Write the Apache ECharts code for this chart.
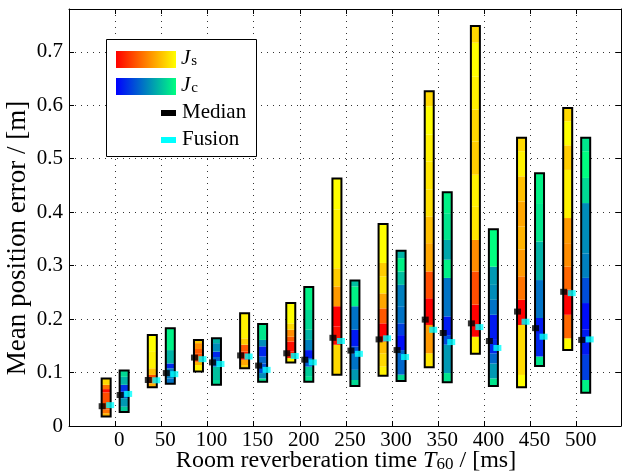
<!DOCTYPE html>
<html>
<head>
<meta charset="utf-8">
<script src="https://cdn.jsdelivr.net/npm/echarts@6/dist/echarts.min.js"></script>
<style>
  html, body { margin: 0; padding: 0; background: #fff; }
  #chart { width: 623px; height: 475px; }
</style>
</head>
<body>
<div id="chart"></div>
<script>
// reverberation times (x categories)
const t60 = [0, 50, 100, 150, 200, 250, 300, 350, 400, 450, 500];

// J_s bars: band edges (bottom -> top) and colour level of each band (0 red .. 1 yellow)
const jsEdges = [
  [0.018, 0.024, 0.031, 0.063, 0.069, 0.077, 0.089],
  [0.0725, 0.080, 0.0955, 0.108, 0.140, 0.170],
  [0.102, 0.114, 0.120, 0.135, 0.144, 0.155, 0.161],
  [0.108, 0.114, 0.124, 0.139, 0.152, 0.164, 0.211],
  [0.119, 0.127, 0.139, 0.158, 0.167, 0.180, 0.192, 0.230],
  [0.096, 0.152, 0.186, 0.224, 0.261, 0.295, 0.405, 0.463],
  [0.094, 0.111, 0.136, 0.158, 0.192, 0.220, 0.248, 0.280, 0.305, 0.378],
  [0.110, 0.136, 0.189, 0.239, 0.289, 0.342, 0.392, 0.442, 0.495, 0.545, 0.598, 0.626],
  [0.135, 0.167, 0.227, 0.289, 0.348, 0.411, 0.470, 0.532, 0.592, 0.654, 0.717, 0.748],
  [0.0725, 0.0955, 0.189, 0.236, 0.280, 0.330, 0.373, 0.420, 0.467, 0.514, 0.539],
  [0.142, 0.164, 0.208, 0.255, 0.298, 0.342, 0.389, 0.479, 0.525, 0.570, 0.595]
];
const jsLevels = [
  [0.7, 0.45, 0.3, 0.05, 0.45, 0.85],
  [0.7, 0.3, 0.75, 0.95, 1.0],
  [0.95, 0.7, 0.3, 0.35, 0.55, 0.8],
  [0.8, 0.65, 0.1, 0.35, 0.8, 0.95],
  [0.95, 0.1, 0.05, 0.35, 0.55, 0.85, 1.0],
  [0.85, 0.05, 0.0, 0.6, 0.8, 0.95, 1.0],
  [0.95, 0.85, 0.75, 0.0, 0.35, 0.65, 0.9, 0.8, 1.0],
  [0.9, 0.6, 0.0, 0.3, 0.65, 0.75, 0.88, 0.9, 0.95, 1.0, 0.85],
  [0.95, 0.0, 0.3, 0.55, 0.9, 0.95, 0.8, 0.85, 0.95, 1.0, 0.85],
  [1.0, 0.85, 0.0, 0.45, 0.6, 0.7, 0.65, 0.75, 0.95, 0.85],
  [1.0, 0.4, 0.0, 0.4, 0.55, 0.6, 0.95, 0.8, 1.0, 0.85]
];

// J_c bars: band edges and colour level (0 blue .. 1 green)
const jcEdges = [
  [0.026, 0.036, 0.052, 0.064, 0.077, 0.092, 0.104],
  [0.079, 0.089, 0.108, 0.117, 0.142, 0.183],
  [0.077, 0.086, 0.111, 0.129, 0.139, 0.155, 0.164],
  [0.083, 0.089, 0.099, 0.117, 0.130, 0.149, 0.161, 0.191],
  [0.083, 0.092, 0.111, 0.127, 0.142, 0.161, 0.180, 0.217, 0.260],
  [0.075, 0.086, 0.105, 0.136, 0.149, 0.180, 0.224, 0.261, 0.272],
  [0.084, 0.096, 0.142, 0.170, 0.192, 0.224, 0.264, 0.289, 0.314, 0.328],
  [0.082, 0.099, 0.152, 0.170, 0.205, 0.277, 0.311, 0.348, 0.398, 0.437],
  [0.075, 0.089, 0.117, 0.136, 0.161, 0.208, 0.236, 0.264, 0.298, 0.368],
  [0.112, 0.130, 0.174, 0.202, 0.273, 0.345, 0.417, 0.473],
  [0.062, 0.086, 0.133, 0.180, 0.230, 0.277, 0.323, 0.417, 0.464, 0.514, 0.539]
];
const jcLevels = [
  [0.8, 0.6, 0.35, 0.2, 0.7, 0.85],
  [0.45, 0.5, 0.15, 0.7, 0.95],
  [0.85, 0.75, 0.4, 0.15, 0.55, 0.7],
  [0.9, 0.55, 0.3, 0.4, 0.15, 0.55, 0.9],
  [0.9, 0.8, 0.35, 0.1, 0.5, 0.7, 0.85, 0.95],
  [0.85, 0.6, 0.45, 0.3, 0.1, 0.45, 0.95, 0.75],
  [0.85, 0.4, 0.05, 0.25, 0.45, 0.5, 0.75, 0.95, 0.7],
  [0.9, 0.6, 0.3, 0.1, 0.45, 0.95, 0.65, 0.9, 0.95],
  [0.9, 0.6, 0.4, 0.15, 0.1, 0.45, 0.55, 0.6, 1.0],
  [0.9, 0.15, 0.1, 0.45, 0.7, 0.9, 0.95],
  [0.95, 0.25, 0.1, 0.05, 0.3, 0.5, 0.55, 0.85, 1.0, 0.9]
];

// median and fusion markers
const jsMedian = [0.037, 0.086, 0.128, 0.132, 0.136, 0.165, 0.162, 0.199, 0.192, 0.214, 0.251];
const jsFusion = [0.039, 0.0855, 0.125, 0.130, 0.131, 0.159, 0.164, 0.180, 0.185, 0.195, 0.2485];
const jcMedian = [0.058, 0.099, 0.119, 0.113, 0.124, 0.141, 0.142, 0.174, 0.159, 0.183, 0.161];
const jcFusion = [0.060, 0.097, 0.116, 0.105, 0.119, 0.135, 0.129, 0.157, 0.146, 0.167, 0.162];

const FONT = 'Liberation Serif';

// matlab autumn / winter colormaps
const autumn = (t) => `rgb(255,${Math.round(255 * t)},0)`;
const winter = (t) => `rgb(0,${Math.round(255 * t)},${Math.round(255 * (1 - t / 2))})`;

// segments: [x, lo, hi, level, side]  side -1 = J_s (left), 1 = J_c (right)
let segData = [];
let boxData = [];
const addBars = (edges, levels, side) => {
  t60.forEach((t, i) => {
    const e = edges[i];
    for (let k = 0; k < levels[i].length; k++) {
      segData.push([t, e[k], e[k + 1], levels[i][k], side]);
    }
    boxData.push([t, e[0], e[e.length - 1], side]);
  });
};
addBars(jsEdges, jsLevels, -1);
addBars(jcEdges, jcLevels, 1);

const BAR_W = 9;
const barX = (px, side) => px + (side < 0 ? -13.5 : 4.5);

const pairs = (arr) => arr.map((v, i) => [t60[i], v]);

const frameLine = { onZero: false, lineStyle: { color: '#000', width: 1 } };
const frameTick = { show: true, inside: true, length: 5, lineStyle: { color: '#000' } };
const dotted = { show: true, lineStyle: { color: '#333', width: 1, type: [1, 5] } };

const chart = echarts.init(document.getElementById('chart'));

const option = {
  animation: false,
  backgroundColor: '#fff',
  grid: { left: 69, right: 2, top: 9, bottom: 49, containLabel: false, outerBoundsMode: 'none' },
  xAxis: [
    {
      type: 'value', min: -50, max: 548, interval: 50,
      axisLine: frameLine,
      axisTick: frameTick,
      axisLabel: {
        fontFamily: FONT, fontSize: 21, color: '#000', margin: 4, padding: [0, 0, 0, 8],
        showMinLabel: false, showMaxLabel: false,
        formatter: (v) => (v >= 0 && v <= 500 ? String(v) : '')
      },
      splitLine: dotted
    },
    {
      type: 'value', position: 'top', min: -50, max: 548, interval: 50,
      axisLine: frameLine, axisTick: frameTick,
      axisLabel: { show: false }, splitLine: { show: false }
    }
  ],
  yAxis: [
    {
      type: 'value', min: 0, max: 0.78, interval: 0.1,
      axisLine: Object.assign({ show: true }, frameLine),
      axisTick: frameTick,
      axisLabel: {
        fontFamily: FONT, fontSize: 21, color: '#000', margin: 6, showMaxLabel: false,
        formatter: (v) => (v <= 0.7 ? String(Math.round(v * 10) / 10) : '')
      },
      splitLine: dotted
    },
    {
      type: 'value', position: 'right', min: 0, max: 0.78, interval: 0.1,
      axisLine: Object.assign({ show: true }, frameLine), axisTick: frameTick,
      axisLabel: { show: false }, splitLine: { show: false }
    }
  ],
  series: [
    {
      type: 'custom',
      data: segData,
      z: 2,
      renderItem: (params, api) => {
        const side = api.value(4);
        const lo = api.coord([api.value(0), api.value(1)]);
        const hi = api.coord([api.value(0), api.value(2)]);
        const lvl = api.value(3);
        return {
          type: 'rect',
          shape: { x: barX(lo[0], side), y: hi[1], width: BAR_W, height: lo[1] - hi[1] },
          style: { fill: side < 0 ? autumn(lvl) : winter(lvl), stroke: null }
        };
      }
    },
    {
      type: 'custom',
      data: boxData,
      z: 3,
      renderItem: (params, api) => {
        const side = api.value(3);
        const lo = api.coord([api.value(0), api.value(1)]);
        const hi = api.coord([api.value(0), api.value(2)]);
        return {
          type: 'rect',
          shape: { x: barX(lo[0], side), y: hi[1], width: BAR_W, height: lo[1] - hi[1] },
          style: { fill: 'none', stroke: '#000', lineWidth: 2 }
        };
      }
    },
    { type: 'scatter', data: pairs(jsMedian), symbol: 'rect', symbolSize: [7, 6], symbolOffset: [-13, 0], itemStyle: { color: '#000' }, z: 4 },
    { type: 'scatter', data: pairs(jcMedian), symbol: 'rect', symbolSize: [7, 6], symbolOffset: [5, 0], itemStyle: { color: '#000' }, z: 4 },
    { type: 'scatter', data: pairs(jsFusion), symbol: 'rect', symbolSize: [8, 6], symbolOffset: [-5, 0], itemStyle: { color: '#00ffff' }, z: 5 },
    { type: 'scatter', data: pairs(jcFusion), symbol: 'rect', symbolSize: [8, 6], symbolOffset: [13, 0], itemStyle: { color: '#00ffff' }, z: 5 }
  ],
  graphic: [
    // axis titles as free text so they sit where the original has them
    {
      type: 'text', x: 18, y: 238, rotation: Math.PI / 2,
      style: { text: 'Mean position error / [m]', fontFamily: FONT, fontSize: 27, fill: '#000', align: 'center', verticalAlign: 'middle' }
    },
    {
      type: 'text', x: 346, y: 461,
      style: {
        text: '{a|Room reverberation time }{t|T}{sub|60}{a| / [ms]}',
        align: 'center', verticalAlign: 'middle',
        rich: {
          a: { fontFamily: FONT, fontSize: 24, fill: '#000' },
          t: { fontFamily: FONT, fontSize: 24, fontStyle: 'italic', fill: '#000' },
          sub: { fontFamily: FONT, fontSize: 17, fill: '#000', verticalAlign: 'bottom', padding: [6, 0, 0, 0] }
        }
      }
    },
    { type: 'rect', left: 106, top: 39, z: 10, shape: { width: 150, height: 117 }, style: { fill: '#fff', stroke: '#000', lineWidth: 1 } },
    {
      type: 'rect', left: 116, top: 51, z: 11, shape: { width: 60, height: 17 },
      style: { fill: new echarts.graphic.LinearGradient(0, 0, 1, 0, [{ offset: 0, color: autumn(0) }, { offset: 0.5, color: autumn(0.5) }, { offset: 1, color: autumn(1) }]) }
    },
    {
      type: 'rect', left: 116, top: 78, z: 11, shape: { width: 60, height: 17 },
      style: { fill: new echarts.graphic.LinearGradient(0, 0, 1, 0, [{ offset: 0, color: winter(0) }, { offset: 0.5, color: winter(0.5) }, { offset: 1, color: winter(1) }]) }
    },
    { type: 'rect', left: 161, top: 110, z: 11, shape: { width: 15, height: 6 }, style: { fill: '#000' } },
    { type: 'rect', left: 161, top: 137, z: 11, shape: { width: 15, height: 6 }, style: { fill: '#00ffff' } },
    {
      type: 'text', left: 181, top: 48, z: 11,
      style: {
        text: '{j|J}{s|s}',
        rich: {
          j: { fontFamily: FONT, fontSize: 21, fontStyle: 'italic', fill: '#000' },
          s: { fontFamily: FONT, fontSize: 15, fill: '#000', verticalAlign: 'bottom', padding: [6, 0, 0, 1] }
        }
      }
    },
    {
      type: 'text', left: 181, top: 75, z: 11,
      style: {
        text: '{j|J}{s|c}',
        rich: {
          j: { fontFamily: FONT, fontSize: 21, fontStyle: 'italic', fill: '#000' },
          s: { fontFamily: FONT, fontSize: 15, fill: '#000', verticalAlign: 'bottom', padding: [6, 0, 0, 1] }
        }
      }
    },
    { type: 'text', left: 182, top: 102, z: 11, style: { text: 'Median', fontFamily: FONT, fontSize: 21, fill: '#000' } },
    { type: 'text', left: 182, top: 129, z: 11, style: { text: 'Fusion', fontFamily: FONT, fontSize: 21, fill: '#000' } }
  ]
};

chart.setOption(option);
</script>
</body>
</html>
